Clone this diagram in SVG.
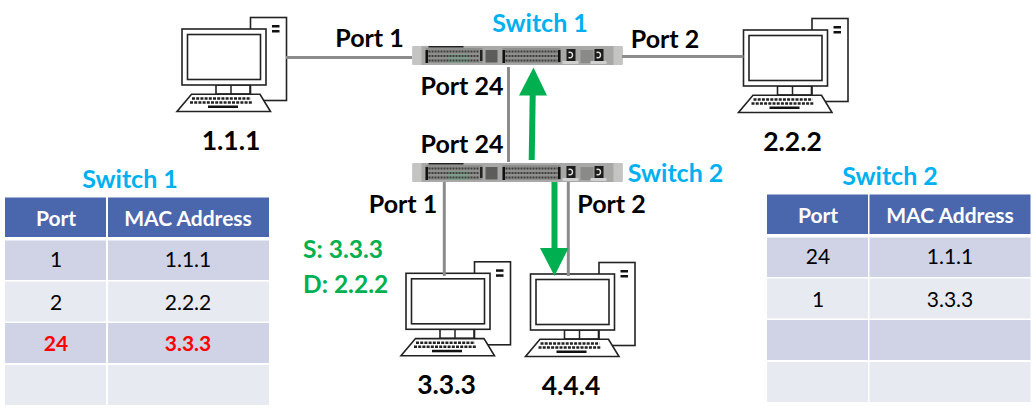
<svg xmlns="http://www.w3.org/2000/svg" width="1036" height="411" viewBox="0 0 1036 411">
<style>
text{font-family:"Lato","Liberation Sans",sans-serif;text-anchor:middle}
.b{font-size:25px;font-weight:700;fill:#000}
.n{font-size:26.500px;font-weight:700;fill:#000}
.s{font-size:25px;font-weight:700;fill:#00b0f0}
.g{font-size:24.500px;font-weight:700;fill:#00b050;text-anchor:start}
.th{font-size:21px;font-weight:700;fill:#fff}
.td{font-size:21px;fill:#000}
.r{font-size:21px;font-weight:700;fill:#f00}
.h{fill:#4a67ad}.d{fill:#cfd3e5}.l{fill:#e8eaf2}
.w{stroke:#8c8c8c;stroke-width:3;fill:none}
.p{fill:#fff;stroke:#222;stroke-width:1.600}
</style>
<defs>
<symbol id="pc" overflow="visible">
<rect class="p" x="250.500" y="17.500" width="36" height="83"/>
<rect x="272" y="25" width="7.500" height="2.500" fill="#111"/><rect x="272" y="30" width="7.500" height="2.500" fill="#111"/>
<rect class="p" x="216" y="85" width="34" height="9"/><path d="M231 85v9" stroke="#222" stroke-width="1.500"/>
<rect class="p" x="182" y="29" width="84" height="56"/>
<rect class="p" x="187.500" y="34.500" width="73" height="45"/>
<path class="p" d="M191.500 94.300H260L270.500 111.500H177Z"/>
<path d="M192 98.500H251M190 102.500H253" stroke="#222" stroke-width="2.500" stroke-dasharray="3 1.200"/>
<rect x="208" y="105.500" width="30" height="2.500" fill="#111"/>
</symbol>
<symbol id="sw" overflow="visible">
<rect x="0" y="0" width="210" height="19" rx="1.500" fill="#a8a8a6"/>
<rect x="0" y="0" width="9" height="19" fill="#c4c4c2"/><rect x="201" y="0" width="9" height="19" fill="#c4c4c2"/>
<rect x="16" y="0" width="35" height="1.500" fill="#222"/>
<rect x="13" y="2" width="57" height="15" fill="#8f8f8d"/>
<rect x="13" y="4" width="2.500" height="13" fill="#111"/><rect x="67.500" y="4" width="2.500" height="11" fill="#222"/>
<rect x="36" y="8" width="20" height="9" fill="#7f9c8a"/>
<path d="M16 5.500H67M16 10H67M16 14.500H67" stroke="#3e3e3c" stroke-width="2" stroke-dasharray="2 1"/>
<rect x="73" y="4" width="12" height="12.500" fill="#5c5c5a"/>
<rect x="90" y="2" width="58" height="15" fill="#8f8f8d"/>
<rect x="90" y="4" width="2.500" height="13" fill="#111"/><rect x="145.500" y="4" width="2.500" height="12" fill="#111"/>
<path d="M93 5.500H145M93 10H145M93 14.500H145" stroke="#3e3e3c" stroke-width="2" stroke-dasharray="2 1"/>
<rect x="154" y="3" width="9" height="12" fill="#1c1c1c"/><path d="M156 6.500q4-1 4 2.500t-4 2.500" stroke="#ddd" stroke-width="1.500" fill="none"/>
<rect x="150" y="15" width="16" height="3" fill="#d0d0ce"/>
<rect x="168" y="4" width="13" height="13" fill="#8a8a88"/>
<rect x="182" y="3" width="9" height="12" fill="#1c1c1c"/><path d="M184 6.500q4-1 4 2.500t-4 2.500" stroke="#ddd" stroke-width="1.500" fill="none"/>
<rect x="178" y="15" width="16" height="3" fill="#d0d0ce"/>
</symbol>
</defs>
<g id="pc1"><use href="#pc"/><text class="n" x="231" y="150">1.1.1</text></g>
<g id="pc2"><use href="#pc" x="561.500" y="1"/><text class="n" x="792.500" y="151">2.2.2</text></g>
<g id="pc3"><use href="#pc" x="224" y="244.300"/><text class="n" x="446.500" y="394">3.3.3</text></g>
<g id="pc4"><use href="#pc" x="348.500" y="245"/><text class="n" x="571" y="395">4.4.4</text></g>
<g id="switch1"><use href="#sw" x="412.500" y="46"/><text class="s" x="540" y="32">Switch 1</text></g>
<g id="switch2"><use href="#sw" x="412.500" y="163"/><text class="s" x="675.500" y="182">Switch 2</text></g>
<g id="connectors">
<path class="w" d="M286 57.500H412M622 56.500H743.500M508.500 67V162M444.300 182V276M568.300 182V276"/>
<path d="M531.700 160 532.700 95" stroke="#00b050" stroke-width="6" fill="none"/><path d="M533.500 67.500 519 95.500H547Z" fill="#00b050"/>
<path d="M554.500 182V250" stroke="#00b050" stroke-width="6" fill="none"/><path d="M554.500 276 540 248H568.500Z" fill="#00b050"/>
</g>
<g id="labels">
<text class="b" x="369.500" y="47">Port 1</text><text class="b" x="665" y="48">Port 2</text>
<text class="b" x="462" y="95">Port 24</text><text class="b" x="462" y="153">Port 24</text>
<text class="b" x="403" y="213">Port 1</text><text class="b" x="611.500" y="213">Port 2</text>
<text class="g" x="303" y="258">S: 3.3.3</text><text class="g" x="303" y="293">D: 2.2.2</text>
</g>
<g id="table1">
<text class="s" x="130" y="188">Switch 1</text>
<rect class="h" x="5" y="197.500" width="101" height="39.500"/><rect class="h" x="108" y="197.500" width="161" height="39.500"/>
<rect class="d" x="5" y="240.500" width="101" height="39.500"/><rect class="d" x="108" y="240.500" width="161" height="39.500"/>
<rect class="l" x="5" y="281.500" width="101" height="40"/><rect class="l" x="108" y="281.500" width="161" height="40"/>
<rect class="d" x="5" y="323" width="101" height="40"/><rect class="d" x="108" y="323" width="161" height="40"/>
<rect class="l" x="5" y="365" width="101" height="40"/><rect class="l" x="108" y="365" width="161" height="40"/>
<text class="th" x="56" y="226">Port</text><text class="th" x="188" y="226">MAC Address</text>
<text class="td" x="56" y="267">1</text><text class="td" x="188" y="267">1.1.1</text>
<text class="td" x="56" y="310">2</text><text class="td" x="188" y="310">2.2.2</text>
<text class="r" x="56" y="351">24</text><text class="r" x="188" y="351">3.3.3</text>
</g>
<g id="table2">
<text class="s" x="890" y="185">Switch 2</text>
<rect class="h" x="767" y="194.500" width="101" height="39.500"/><rect class="h" x="869.500" y="194.500" width="161" height="39.500"/>
<rect class="d" x="767" y="237.500" width="101" height="39.500"/><rect class="d" x="869.500" y="237.500" width="161" height="39.500"/>
<rect class="l" x="767" y="278.500" width="101" height="40"/><rect class="l" x="869.500" y="278.500" width="161" height="40"/>
<rect class="d" x="767" y="320" width="101" height="40"/><rect class="d" x="869.500" y="320" width="161" height="40"/>
<rect class="l" x="767" y="362" width="101" height="40"/><rect class="l" x="869.500" y="362" width="161" height="40"/>
<text class="th" x="818" y="223">Port</text><text class="th" x="950" y="223">MAC Address</text>
<text class="td" x="818" y="264">24</text><text class="td" x="950" y="264">1.1.1</text>
<text class="td" x="818" y="307">1</text><text class="td" x="950" y="307">3.3.3</text>
</g>
</svg>
